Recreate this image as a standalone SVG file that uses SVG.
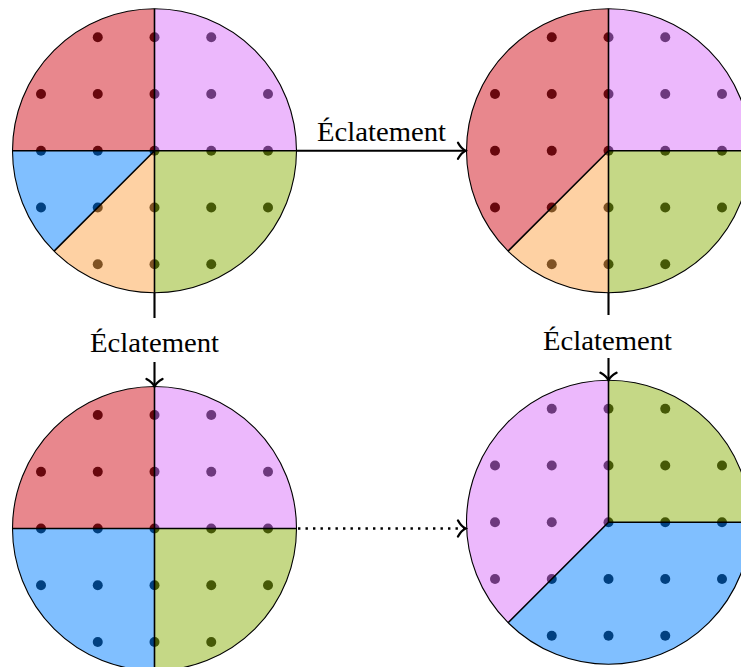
<svg xmlns="http://www.w3.org/2000/svg" width="741" height="667" viewBox="0 0 741 667">
<style>
.dot{fill:#000}
.red{fill:rgb(209,15,27);fill-opacity:0.5}
.pink{fill:rgb(217,113,249);fill-opacity:0.5}
.green{fill:rgb(139,177,13);fill-opacity:0.5}
.blue{fill:rgb(1,127,255);fill-opacity:0.5}
.orange{fill:rgb(253,163,71);fill-opacity:0.5}
.sep{stroke:#000;stroke-width:1.6;fill:none}
.rim{stroke:#000;stroke-width:1.1;fill:none}
.arr{stroke:#000;stroke-width:2.1;fill:none}
.dotted{stroke-width:2.4;stroke-dasharray:2.4 5.1}
.lbl{font-family:"Liberation Serif","DejaVu Serif",serif;font-size:27px;fill:#000;text-anchor:middle}
</style>
<defs>
<g id="dots">
<circle class="dot" cx="-56.75" cy="-113.5" r="5"/><circle class="dot" cx="0" cy="-113.5" r="5"/><circle class="dot" cx="56.75" cy="-113.5" r="5"/>
<circle class="dot" cx="-113.5" cy="-56.75" r="5"/><circle class="dot" cx="-56.75" cy="-56.75" r="5"/><circle class="dot" cx="0" cy="-56.75" r="5"/><circle class="dot" cx="56.75" cy="-56.75" r="5"/><circle class="dot" cx="113.5" cy="-56.75" r="5"/>
<circle class="dot" cx="-113.5" cy="0" r="5"/><circle class="dot" cx="-56.75" cy="0" r="5"/><circle class="dot" cx="0" cy="0" r="5"/><circle class="dot" cx="56.75" cy="0" r="5"/><circle class="dot" cx="113.5" cy="0" r="5"/>
<circle class="dot" cx="-113.5" cy="56.75" r="5"/><circle class="dot" cx="-56.75" cy="56.75" r="5"/><circle class="dot" cx="0" cy="56.75" r="5"/><circle class="dot" cx="56.75" cy="56.75" r="5"/><circle class="dot" cx="113.5" cy="56.75" r="5"/>
<circle class="dot" cx="-56.75" cy="113.5" r="5"/><circle class="dot" cx="0" cy="113.5" r="5"/><circle class="dot" cx="56.75" cy="113.5" r="5"/>
</g>
<marker id="tip" viewBox="-10 -10 20 20" refX="0" refY="0" markerWidth="20" markerHeight="20" markerUnits="userSpaceOnUse" orient="auto">
<path d="M-7.5,-8 C-5,-3.5 -2,-1 0,0 C-2,1 -5,3.5 -7.5,8" stroke="#000" stroke-width="2.3" fill="none" stroke-linecap="round"/>
</marker>
</defs>
<rect x="0" y="0" width="741" height="667" fill="#fff"/>

<g id="node-top-left">
<use href="#dots" x="154.5" y="150.7"/>
<path class="red" d="M154.5,150.7 L154.5,8.7 A142,142 0 0 0 12.5,150.7 Z"/>
<path class="pink" d="M154.5,150.7 L296.5,150.7 A142,142 0 0 0 154.5,8.7 Z"/>
<path class="green" d="M154.5,150.7 L154.5,292.7 A142,142 0 0 0 296.5,150.7 Z"/>
<path class="blue" d="M154.5,150.7 L12.5,150.7 A142,142 0 0 0 54.09,251.11 Z"/>
<path class="orange" d="M154.5,150.7 L54.09,251.11 A142,142 0 0 0 154.5,292.7 Z"/>
<path class="sep" d="M154.5,8.7 V292.7 M12.5,150.7 H296.5 M154.5,150.7 L54.09,251.11"/>
<circle class="rim" cx="154.5" cy="150.7" r="142"/>
</g>

<g id="node-top-right">
<use href="#dots" x="608.5" y="150.7"/>
<path class="red" d="M608.5,150.7 L608.5,8.7 A142,142 0 0 0 508.09,251.11 Z"/>
<path class="pink" d="M608.5,150.7 L750.5,150.7 A142,142 0 0 0 608.5,8.7 Z"/>
<path class="green" d="M608.5,150.7 L608.5,292.7 A142,142 0 0 0 750.5,150.7 Z"/>
<path class="orange" d="M608.5,150.7 L508.09,251.11 A142,142 0 0 0 608.5,292.7 Z"/>
<path class="sep" d="M608.5,8.7 V292.7 M608.5,150.7 H750.5 M608.5,150.7 L508.09,251.11"/>
<circle class="rim" cx="608.5" cy="150.7" r="142"/>
</g>

<g id="node-bottom-left">
<use href="#dots" x="154.5" y="528.5"/>
<path class="red" d="M154.5,528.5 L154.5,386.5 A142,142 0 0 0 12.5,528.5 Z"/>
<path class="pink" d="M154.5,528.5 L296.5,528.5 A142,142 0 0 0 154.5,386.5 Z"/>
<path class="green" d="M154.5,528.5 L154.5,670.5 A142,142 0 0 0 296.5,528.5 Z"/>
<path class="blue" d="M154.5,528.5 L12.5,528.5 A142,142 0 0 0 154.5,670.5 Z"/>
<path class="sep" d="M154.5,386.5 V670.5 M12.5,528.5 H296.5"/>
<circle class="rim" cx="154.5" cy="528.5" r="142"/>
</g>

<g id="node-bottom-right">
<use href="#dots" x="608.5" y="522.3"/>
<path class="pink" d="M608.5,522.3 L608.5,380.3 A142,142 0 0 0 508.09,622.71 Z"/>
<path class="green" d="M608.5,522.3 L750.5,522.3 A142,142 0 0 0 608.5,380.3 Z"/>
<path class="blue" d="M608.5,522.3 L508.09,622.71 A142,142 0 0 0 750.5,522.3 Z"/>
<path class="sep" d="M608.5,380.3 V522.3 H750.5 M608.5,522.3 L508.09,622.71"/>
<circle class="rim" cx="608.5" cy="522.3" r="142"/>
</g>

<g id="connectors">
<path class="arr" d="M296.5,150.7 H465.5" marker-end="url(#tip)"/>
<text class="lbl" x="381.5" y="140.5" textLength="129" lengthAdjust="spacingAndGlyphs">Éclatement</text>
<path class="arr" d="M154.5,292.7 V318 M154.5,362 V386.5" marker-end="url(#tip)"/>
<text class="lbl" x="154.5" y="352" textLength="129" lengthAdjust="spacingAndGlyphs">Éclatement</text>
<path class="arr" d="M608.5,292.7 V315 M608.5,358 V380.3" marker-end="url(#tip)"/>
<text class="lbl" x="607.5" y="350" textLength="129" lengthAdjust="spacingAndGlyphs">Éclatement</text>
<path class="arr dotted" d="M298,528.5 H465.5" marker-end="url(#tip)"/>
</g>
</svg>
